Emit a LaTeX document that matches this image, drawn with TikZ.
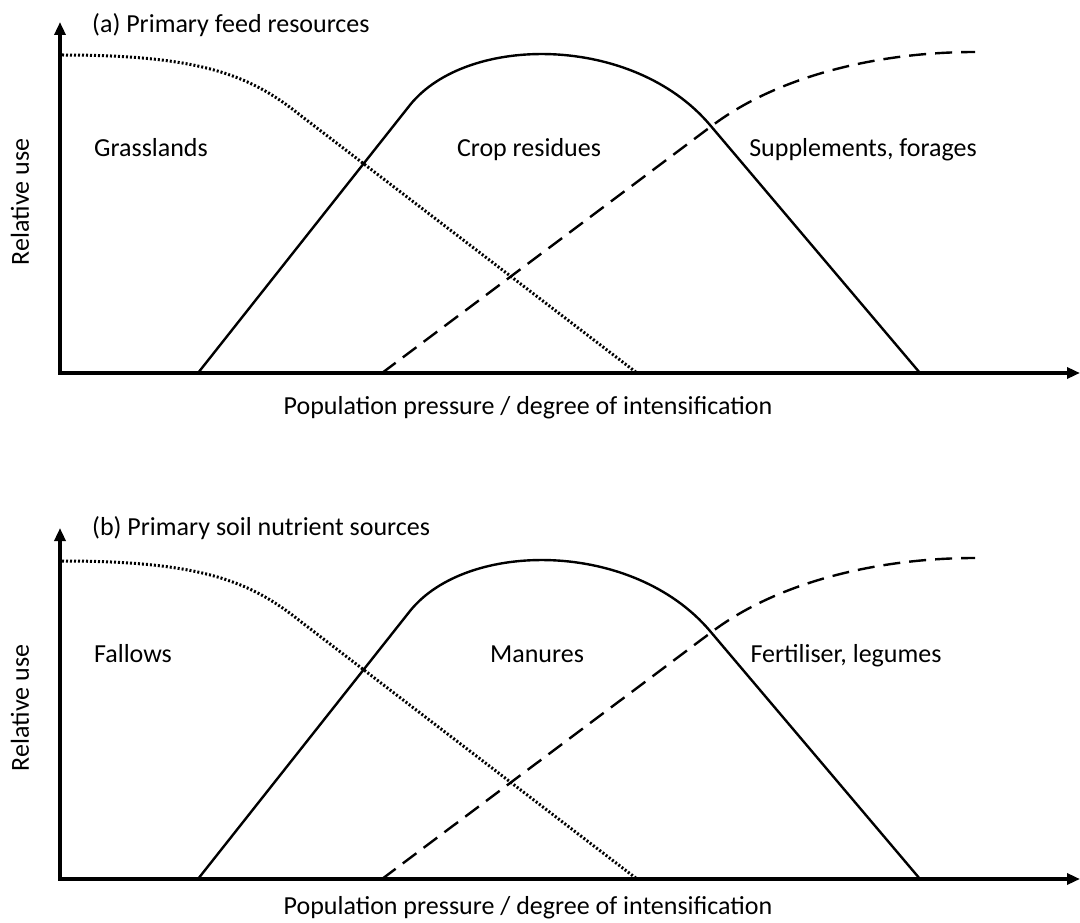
\documentclass[tikz,border=0pt]{standalone}
\usepackage{fontspec}
\setmainfont{Carlito}
\usetikzlibrary{arrows.meta}
\begin{document}
\begin{tikzpicture}[x=1pt,y=-1pt,
  axisline/.style={line width=3.5pt,-{Triangle[length=13pt,width=11pt]}},
  solidcurve/.style={line width=2.4pt},
  dashcurve/.style={line width=2.4pt,dash pattern=on 17pt off 9pt},
  dotcurve/.style={line width=3pt,dash pattern=on 2pt off 2pt},
  lbl/.style={font=\fontsize{26}{30}\selectfont,inner sep=0pt,anchor=base},
  ttl/.style={font=\fontsize{26}{30}\selectfont,inner sep=0pt,anchor=base west}]
\useasboundingbox (0,0) rectangle (1080,923);
\fill[white] (0,0) rectangle (1080,923);

% ---------- panel (a) ----------
\coordinate (aO) at (60,373);
\coordinate (aYtop) at (60,22);
\coordinate (aXend) at (1080,373);
\draw[axisline] ([yshift=-1.75pt]aO) -- (aYtop);
\draw[axisline] ([xshift=-1.75pt]aO) -- (aXend);
\draw[dotcurve] (62,55) .. controls (200,55) and (250,75) .. (300,115) -- (637,373);
\draw[solidcurve] (198,373) -- (410,105) .. controls (467,34) and (633,34) .. (710,125) -- (920,373);
\draw[dashcurve] (382,373) -- (713,125) .. controls (780,75) and (880,52) .. (975,52);
\node[ttl] (atitle) at (92,33) {(a) Primary feed resources};
\node[lbl] (agrass) at (151,157) {Grasslands};
\node[lbl] (acrop) at (529,157) {Crop residues};
\node[lbl] (asupp) at (863,157) {Supplements, forages};
\node[font=\fontsize{26}{30}\selectfont,inner sep=0pt,rotate=90] (ayl) at (20,202) {Relative use};
\node[lbl] (axl) at (528,414) {Population pressure / degree of intensification};

% ---------- panel (b) ----------
\coordinate (bO) at (60,879);
\coordinate (bYtop) at (60,528);
\coordinate (bXend) at (1080,879);
\draw[axisline] ([yshift=-1.75pt]bO) -- (bYtop);
\draw[axisline] ([xshift=-1.75pt]bO) -- (bXend);
\draw[dotcurve] (62,561) .. controls (200,561) and (250,581) .. (300,621) -- (637,879);
\draw[solidcurve] (198,879) -- (410,611) .. controls (467,540) and (633,540) .. (710,631) -- (920,879);
\draw[dashcurve] (382,879) -- (713,631) .. controls (780,581) and (880,558) .. (975,558);
\node[ttl] (btitle) at (92,535) {(b) Primary soil nutrient sources};
\node[lbl] (bfall) at (133,662) {Fallows};
\node[lbl] (bman) at (537,662) {Manures};
\node[lbl] (bfert) at (846,662) {Fertiliser, legumes};
\node[font=\fontsize{26}{30}\selectfont,inner sep=0pt,rotate=90] (byl) at (20,708) {Relative use};
\node[lbl] (bxl) at (528,914) {Population pressure / degree of intensification};
\end{tikzpicture}
\end{document}
